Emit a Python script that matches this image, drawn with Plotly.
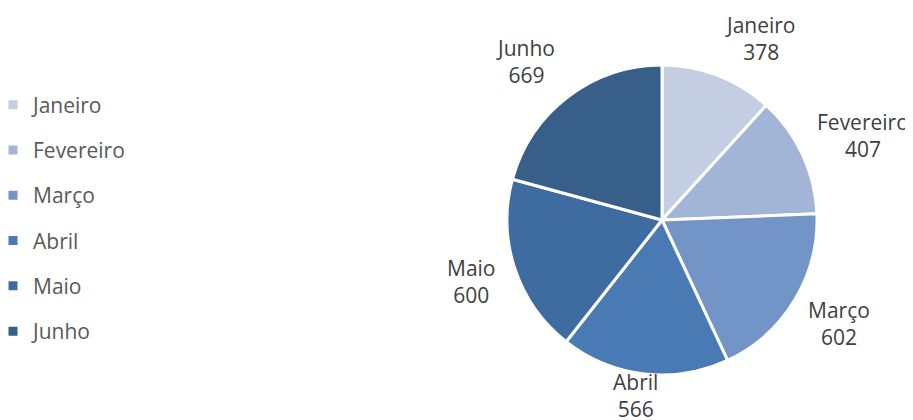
import math
import plotly.graph_objects as go

months = ["Janeiro", "Fevereiro", "Março", "Abril", "Maio", "Junho"]
values = [378, 407, 602, 566, 600, 669]
colors = ["#c3cee2", "#a3b5d6", "#7394c6", "#4a7ab4", "#3f6ca0", "#385e8a"]

W, H = 913, 420
OFF = 8  # page body margin offset
cx, cy, r = 662, 220, 155
FONT = "Open Sans"
FS = 21


def px2x(px):
    return (px - OFF) / W


def px2y(py):
    return (H - (py - OFF)) / H


fig = go.Figure()
fig.add_trace(go.Pie(
    labels=months, values=values, sort=False, direction="clockwise", rotation=0,
    marker=dict(colors=colors, line=dict(color="white", width=3)),
    textinfo="none", showlegend=False, hoverinfo="label+value",
    domain=dict(x=[px2x(cx - r), px2x(cx + r)], y=[px2y(cy + r), px2y(cy - r)]),
))
for m, c in zip(months, colors):
    fig.add_trace(go.Scatter(
        x=[None], y=[None], mode="markers", name=m, legendgroup=m,
        marker=dict(symbol="square", size=9, color=c),
    ))

# data labels outside end, placed from slice mid-angles
total = sum(values)
cum = 0
annotations = []
box_h = 60
for m, v in zip(months, values):
    mid = (cum + v / 2) / total * 2 * math.pi
    cum += v
    s, c = math.sin(mid), math.cos(mid)
    gap_x = 14 if s > 0 else 18
    px = cx + (r + gap_x) * s
    py = cy - (r + 14) * c
    if s > 0.2:
        xa = "left"
    elif s < -0.2:
        xa = "right"
    else:
        xa = "center"
        px += s * 60
    ytop = py - box_h * (1 + c) / 2
    ytop = max(min(ytop, 366), 9)
    annotations.append(dict(
        x=px2x(px), y=px2y(ytop), xref="paper", yref="paper",
        xanchor=xa, yanchor="top", showarrow=False,
        text=f"{m}<br>{v}", align="center",
        font=dict(size=FS, color="#404040", family=FONT),
    ))

fig.update_layout(
    width=W, height=H, margin=dict(l=0, r=0, t=0, b=0, autoexpand=False),
    paper_bgcolor="white", plot_bgcolor="white",
    xaxis=dict(visible=False), yaxis=dict(visible=False),
    annotations=annotations,
    legend=dict(x=px2x(-7), y=px2y(218), xanchor="left", yanchor="middle",
                font=dict(size=FS, color="#595959", family=FONT),
                tracegroupgap=15, itemwidth=30, bgcolor="rgba(0,0,0,0)"),
)
fig.write_html("out.html")
